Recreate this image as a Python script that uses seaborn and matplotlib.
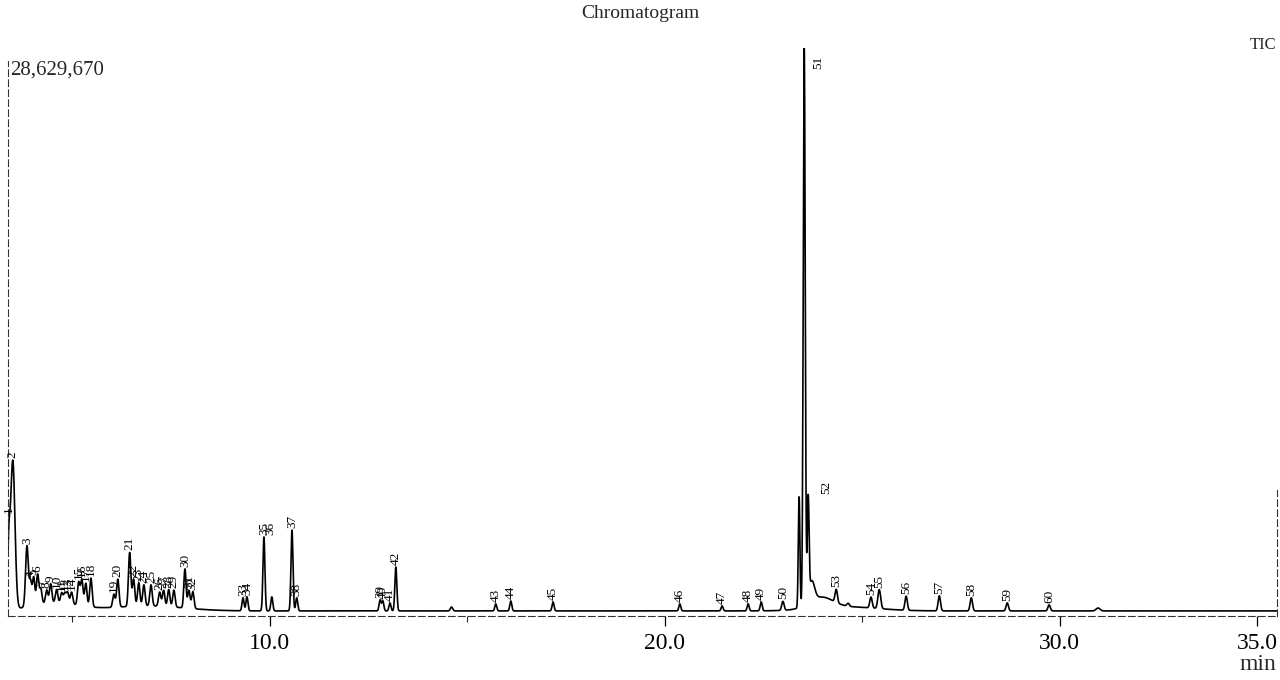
import numpy as np
import pandas as pd
import matplotlib
matplotlib.use("Agg")
import matplotlib.pyplot as plt
import seaborn as sns

# ---------------- data ----------------
peak_numbers = list(range(1, 61))
retention_times = [3.39, 3.49, 3.85, 3.94, 4.02, 4.12, 4.20, 4.35, 4.45, 4.60,
                   4.73, 4.81, 4.88, 4.98, 5.16, 5.24, 5.34, 5.47, 6.05, 6.15,
                   6.45, 6.55, 6.68, 6.81, 6.99, 7.21, 7.31, 7.44, 7.57, 7.85,
                   7.95, 8.05, 9.32, 9.42, 9.85, 10.05, 10.56, 10.68, 12.79, 12.86,
                   13.04, 13.19, 15.72, 16.10, 17.17, 20.38, 21.45, 22.11, 22.44, 22.99,
                   23.53, 23.63, 24.34, 25.22, 25.43, 26.11, 26.95, 27.76, 28.67, 29.73]
peak_heights = [2820000, 7630000, 3120000, 1230000, 1430000, 1540000, 770000, 670000, 970000, 670000,
                510000, 510000, 560000, 610000, 1180000, 1330000, 1180000, 1480000, 670000, 1430000,
                2760000, 1380000, 1180000, 1080000, 1080000, 720000, 820000, 870000, 870000, 2000000,
                920000, 870000, 670000, 720000, 3790000, 720000, 4150000, 670000, 560000, 510000,
                410000, 2250000, 360000, 510000, 460000, 360000, 260000, 360000, 460000, 460000,
                28629670, 5100000, 670000, 560000, 970000, 720000, 770000, 670000, 410000, 310000]
peak_widths = [0.03, 0.055, 0.035, 0.03, 0.03, 0.03, 0.03, 0.03, 0.03, 0.03,
               0.03, 0.03, 0.03, 0.03, 0.03, 0.03, 0.03, 0.03, 0.03, 0.03,
               0.03, 0.03, 0.03, 0.03, 0.03, 0.03, 0.03, 0.03, 0.03, 0.028,
               0.03, 0.03, 0.025, 0.025, 0.025, 0.025, 0.025, 0.025, 0.025, 0.025,
               0.025, 0.025, 0.025, 0.025, 0.025, 0.025, 0.025, 0.025, 0.025, 0.03,
               0.025, 0.022, 0.03, 0.03, 0.035, 0.03, 0.03, 0.03, 0.03, 0.03]

# unlabeled features: raised early baseline, small bumps, peak-51 base and peak-52 tail
extra_times = [4.55, 6.9, 14.6, 23.40, 23.72, 23.95, 24.6, 24.64, 30.97]
extra_heights = [420000, 260000, 200000, 5700000, 1020000, 563000, 205000, 150000, 150000]
extra_widths = [0.6, 0.9, 0.03, 0.02, 0.07, 0.3, 0.8, 0.03, 0.05]

x_ticks = [10, 20, 30, 35]
x_tick_labels = ["10.0", "20.0", "30.0", "35.0"]
max_intensity_label = "28,629,670"

# ---------------- build the trace ----------------
t = np.arange(3.37, 35.5, 0.004)
signal = np.zeros_like(t)
for rt, h, w in zip(retention_times + extra_times,
                    peak_heights + extra_heights,
                    peak_widths + extra_widths):
    signal += h * np.exp(-0.5 * ((t - rt) / w) ** 2)
df = pd.DataFrame({"time": t, "intensity": signal})

# ---------------- style ----------------
sns.set_theme(style="white")
plt.rcParams["font.family"] = ["Liberation Serif", "DejaVu Serif"]

fig = plt.figure(figsize=(12.8, 6.8), dpi=100)
ax = fig.add_axes([8 / 1280, 1 - 616 / 680, 1269 / 1280, 568 / 680])

sns.lineplot(data=df, x="time", y="intensity", ax=ax, color="black",
             linewidth=1.2, estimator=None, sort=False)

ax.set_xlim(3.37, 35.5)
ax.set_ylim(-260000, 28.85e6)
ax.set_xlabel("")
ax.set_ylabel("")
ax.set_yticks([])
ax.set_xticks(x_ticks)
ax.set_xticklabels(x_tick_labels, fontsize=17)
ax.set_xticks([5, 15, 25], minor=True)
ax.tick_params(axis="x", which="major", direction="out", length=7, width=0.9,
               pad=5, bottom=True, colors="black")
ax.tick_params(axis="x", which="minor", direction="out", length=4, width=0.8, bottom=True)

for side in ["left", "bottom", "right"]:
    ax.spines[side].set_visible(True)
    ax.spines[side].set_color("#333333")
    ax.spines[side].set_linewidth(0.8)
    ax.spines[side].set_linestyle((0, (6, 3)))
ax.spines["top"].set_visible(False)
ax.spines["right"].set_bounds(-260000, 6.2e6)
ax.spines["left"].set_bounds(-260000, 28.2e6)

# ---------------- peak labels ----------------
px_per_count = 568 / (28.85e6 + 260000)
pad = 2 / px_per_count
peak_tops = {}
for num, rt in zip(peak_numbers, retention_times):
    m = (t > rt - 0.02) & (t < rt + 0.02)
    peak_tops[num] = signal[m].max()

for num, rt in zip(peak_numbers, retention_times):
    y = peak_tops[num] + pad
    x = rt
    va = "bottom"
    if num == 36:
        y = peak_tops[35] + pad
        x = rt - 0.03
    if num == 51:
        x = rt + 0.36
        y = 28.45e6
        va = "top"
    if num == 52:
        x = rt + 0.45
        y = peak_tops[52]
    ax.text(x, y, str(num), rotation=90, ha="center", va=va,
            fontsize=9.5, color="black")

# ---------------- other texts ----------------
fig.text(0.5, 1 - 13 / 680, "Chromatogram", ha="center", va="center", fontsize=14)
fig.text(10 / 1280, 1 - 70 / 680, max_intensity_label, ha="left", va="center", fontsize=15)
fig.text(1276 / 1280, 1 - 45 / 680, "TIC", ha="right", va="center", fontsize=12)
fig.text(1276 / 1280, 1 - 665 / 680, "min", ha="right", va="center", fontsize=17)

fig.savefig("out.png", dpi=100, facecolor="white")
